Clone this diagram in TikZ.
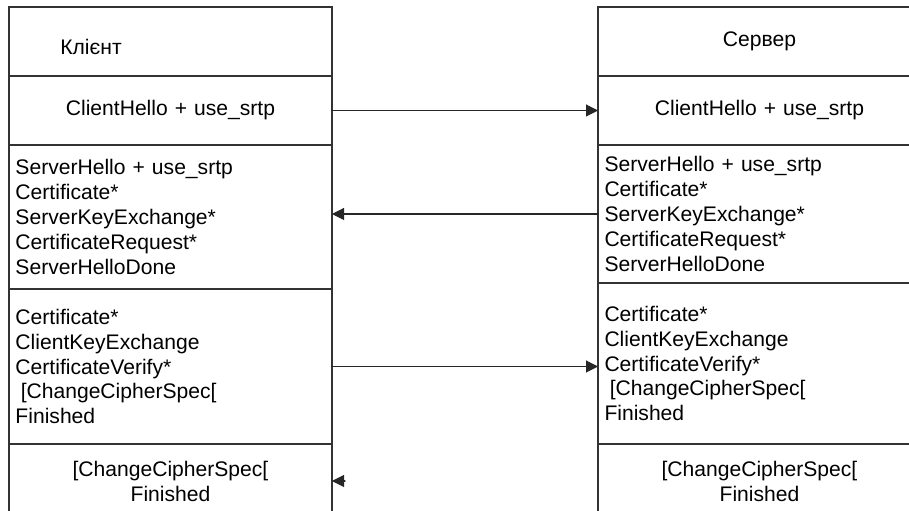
\documentclass[tikz,border=0pt]{standalone}
\usepackage{fontspec}
\setmainfont{Liberation Sans}
\usepackage{tikz}
\usetikzlibrary{arrows.meta,positioning}
\usepackage{xcolor}

\begin{document}
\begin{tikzpicture}[>={Triangle[length=2.4mm,width=2.4mm]},font=\fontsize{12}{14.2}\selectfont,line cap=round,
  cell/.style={draw=black!80,line width=0.6pt,minimum height=#1,text width=6.2cm,inner xsep=0.13cm,inner ysep=0pt,outer sep=0pt},
  ctr/.style={align=center},
  lft/.style={align=left},
  msg/.style={draw=black!85,line width=0.6pt}]
\useasboundingbox (0,0) rectangle (18.18,10.22);
% client
\node[cell=1.38cm,anchor=north west] (cl1) at (0.18,10.08) {};
\node[anchor=west,inner sep=0pt] (clname) at ([xshift=1.02cm,yshift=-0.11cm]cl1.west) {Клієнт};
\node[cell=1.38cm,ctr,below=0pt of cl1] (cl2) {ClientHello + use\_srtp};
\node[cell=2.88cm,lft,below=0pt of cl2] (cl3) {ServerHello + use\_srtp\\Certificate*\\ServerKeyExchange*\\CertificateRequest*\\ServerHelloDone};
\node[cell=3.10cm,lft,below=0pt of cl3] (cl4) {Certificate*\\ClientKeyExchange\\CertificateVerify*\\\hspace*{0.25em}[ChangeCipherSpec[\\Finished};
\node[cell=1.48cm,ctr,below=0pt of cl4] (cl5) {[ChangeCipherSpec[\\Finished};
% server
\node[cell=1.38cm,ctr,anchor=north west] (sv1) at (11.96,10.08) {Сервер};
\node[cell=1.38cm,ctr,below=0pt of sv1] (sv2) {ClientHello + use\_srtp};
\node[cell=2.76cm,lft,below=0pt of sv2] (sv3) {ServerHello + use\_srtp\\Certificate*\\ServerKeyExchange*\\CertificateRequest*\\ServerHelloDone};
\node[cell=3.22cm,lft,below=0pt of sv3] (sv4) {Certificate*\\ClientKeyExchange\\CertificateVerify*\\\hspace*{0.25em}[ChangeCipherSpec[\\Finished};
\node[cell=1.48cm,ctr,below=0pt of sv4] (sv5) {[ChangeCipherSpec[\\Finished};
% messages
\draw[msg,->] (cl2.east) -- (sv2.west);
\draw[msg,->] (sv3.west) -- (sv3.west -| cl3.east);
\draw[msg,->] (cl4.east) -- (cl4.east -| sv4.west);
\coordinate (tail) at ([xshift=0.26cm]cl5.east);
\draw[msg,->] (tail) -- (cl5.east);
\end{tikzpicture}
\end{document}
